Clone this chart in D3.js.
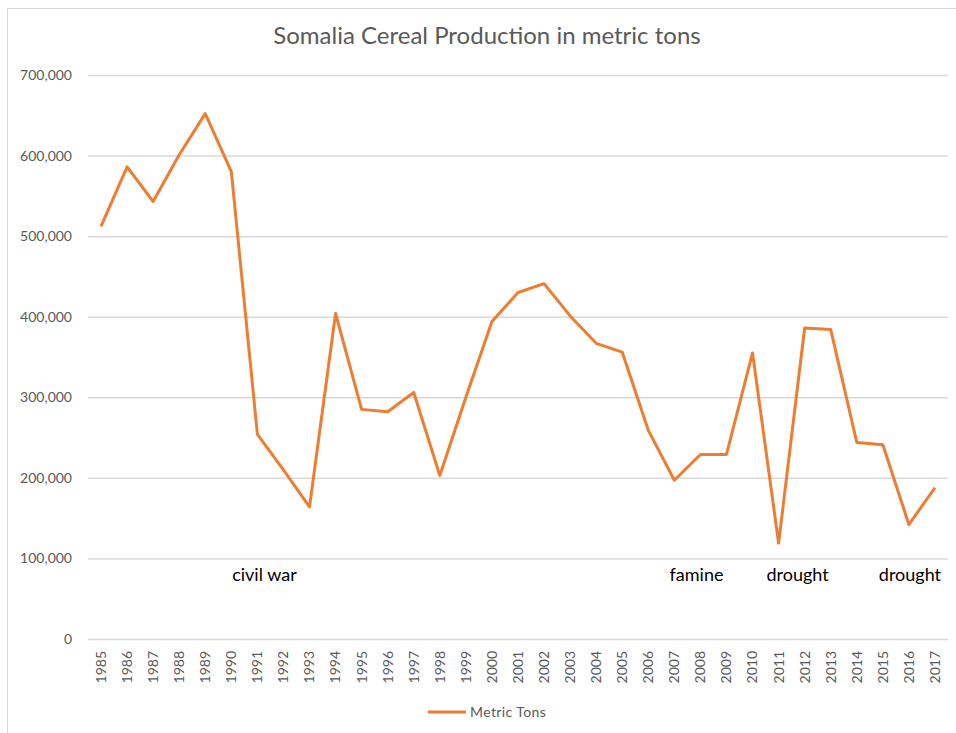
<!DOCTYPE html>
<html>
<head>
<meta charset="utf-8">
<script src="https://cdn.jsdelivr.net/npm/d3@7"></script>
<style>
  body { margin: 0; background: #fff; }
  svg text { font-family: Lato, "Open Sans", sans-serif; }
</style>
</head>
<body>
<div id="chart"></div>
<script>
"use strict";

// years along the x axis
const years = ["1985","1986","1987","1988","1989","1990","1991","1992","1993","1994",
  "1995","1996","1997","1998","1999","2000","2001","2002","2003","2004","2005",
  "2006","2007","2008","2009","2010","2011","2012","2013","2014","2015","2016","2017"];

// cereal production, metric tons
const metricTons = [512000, 586000, 543000, 601000, 652000, 580000, 254000, 210000, 164000, 404000,
  285000, 282000, 306000, 203000, 300000, 394000, 430000, 441000, 401000, 367000, 356000,
  259000, 197000, 229000, 229000, 355000, 119000, 386000, 384000, 244000, 241000, 142000, 188000];

const yTicks = [0, 100000, 200000, 300000, 400000, 500000, 600000, 700000];

// event labels written under the line, placed at (fractional) years
const eventNames = ["civil war", "famine", "drought", "drought"];
const eventYears = [1991.27, 2007.85, 2011.73, 2016.04];

const W = 956, H = 733;
const margin = {top: 75, right: 8, bottom: 94, left: 88};
const plotW = W - margin.left - margin.right;
const plotH = H - margin.top - margin.bottom;

const svg = d3.select("#chart").append("svg")
  .attr("width", W).attr("height", H);

// chart border
svg.append("rect")
  .attr("x", 7.5).attr("y", 8.5)
  .attr("width", W).attr("height", H)
  .attr("fill", "none").attr("stroke", "#d9d9d9");

svg.append("text")
  .attr("x", 487).attr("y", 44)
  .attr("text-anchor", "middle")
  .style("font-size", "24px")
  .style("fill", "#595959")
  .text("Somalia Cereal Production in metric tons");

const x = d3.scaleBand().domain(years).range([0, plotW]);
const y = d3.scaleLinear().domain([0, 700000]).range([plotH, 0]);
// continuous year scale for the annotations (band centres)
const xYear = d3.scaleLinear()
  .domain([+years[0], +years[years.length - 1]])
  .range([x(years[0]) + x.bandwidth() / 2, x(years[years.length - 1]) + x.bandwidth() / 2]);

const g = svg.append("g")
  .attr("transform", `translate(${margin.left},${margin.top})`);

// gridlines + y labels
const yAxis = g.append("g")
  .call(d3.axisLeft(y).tickValues(yTicks).tickSize(-plotW).tickPadding(16)
    .tickFormat(d => d === 0 ? "0" : d3.format(",")(d)));
yAxis.select(".domain").remove();
yAxis.selectAll(".tick line").attr("stroke", "#d9d9d9").attr("stroke-width", 1.5);
yAxis.selectAll(".tick text")
  .style("font-size", "14px").style("fill", "#595959");

// x labels, rotated
const xAxis = g.append("g")
  .attr("transform", `translate(0,${plotH})`)
  .call(d3.axisBottom(x).tickSize(0));
xAxis.select(".domain").remove();
xAxis.selectAll(".tick text")
  .attr("transform", "rotate(-90)")
  .attr("x", -12).attr("y", 0).attr("dy", "0.35em")
  .style("text-anchor", "end")
  .style("font-size", "14px").style("fill", "#595959");

const line = d3.line()
  .x((d, i) => x(years[i]) + x.bandwidth() / 2)
  .y(d => y(d));

g.append("path")
  .datum(metricTons)
  .attr("fill", "none")
  .attr("stroke", "#ed7d31")
  .attr("stroke-width", 3)
  .attr("stroke-linejoin", "round")
  .attr("d", line);

// annotations
g.selectAll(".event")
  .data(eventNames)
  .enter().append("text")
  .attr("class", "event")
  .attr("x", (d, i) => xYear(eventYears[i]))
  .attr("y", y(0) - 58)
  .attr("text-anchor", "middle")
  .style("font-size", "18px")
  .style("fill", "#000")
  .text(d => d);

// legend
const leg = svg.append("g").attr("transform", "translate(428,712)");
leg.append("line").attr("x1", 0).attr("x2", 38)
  .attr("stroke", "#ed7d31").attr("stroke-width", 3);
leg.append("text").attr("x", 42).attr("dy", "0.35em")
  .style("font-size", "14px").style("fill", "#595959")
  .style("letter-spacing", "0.4px")
  .text("Metric Tons");
</script>
</body>
</html>
